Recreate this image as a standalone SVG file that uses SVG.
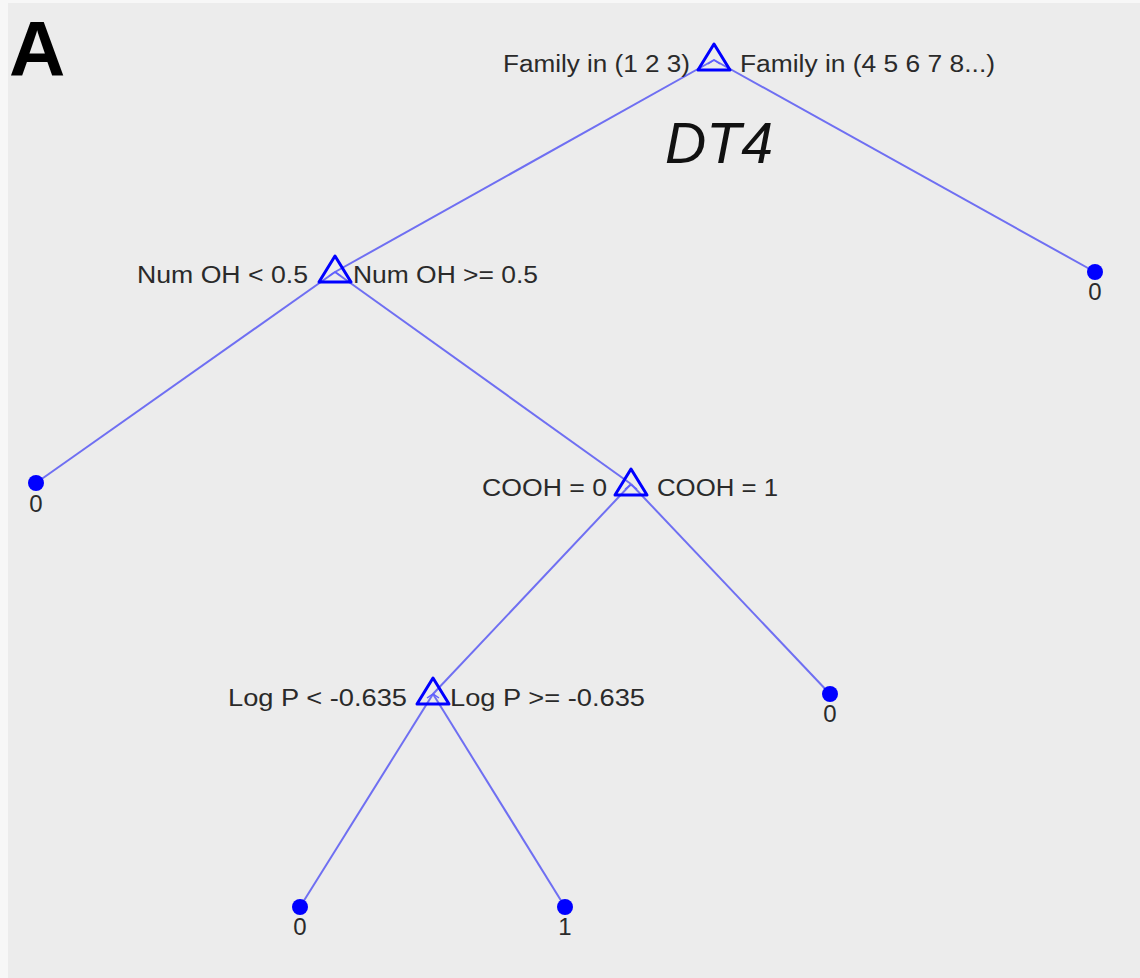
<svg xmlns="http://www.w3.org/2000/svg" width="1140" height="978" viewBox="0 0 1140 978">
<style>
.lbl{font-family:"Liberation Sans",Arial,sans-serif;font-size:23px;fill:#2a2a2a}
.leaf{font-family:"Liberation Sans",Arial,sans-serif;font-size:24px;fill:#2a2a2a;text-anchor:middle}
.edge{stroke:#6f6ff2;stroke-width:2;fill:none}
.tri{stroke:#0000ff;stroke-width:3;fill:none;stroke-linejoin:round}
.inner{stroke:#6060ff;stroke-width:1.5;fill:none}
.dot{fill:#0000ff}
</style>
<defs>
<g id="tri"><path class="tri" d="M0,-14 L16,12 L-16,12 Z"/><path class="inner" d="M-6,6 L0,2 L6,6"/></g>
</defs>
<rect width="1140" height="978" fill="#f7f7f7"/>
<rect x="8" y="3" width="1132" height="975" fill="#ececec"/>
<text x="9" y="76" font-family="Liberation Sans,Arial,sans-serif" font-weight="bold" font-size="78" fill="#000">A</text>
<text x="665" y="163" font-family="Liberation Sans,Arial,sans-serif" font-style="italic" font-size="58" fill="#111" textLength="108" lengthAdjust="spacingAndGlyphs">DT4</text>
<g id="connectors">
<line class="edge" x1="714" y1="60" x2="335" y2="272"/>
<line class="edge" x1="714" y1="60" x2="1095" y2="272"/>
<line class="edge" x1="335" y1="272" x2="36" y2="483"/>
<line class="edge" x1="335" y1="272" x2="631" y2="484"/>
<line class="edge" x1="631" y1="484" x2="433" y2="694"/>
<line class="edge" x1="631" y1="484" x2="830" y2="694"/>
<line class="edge" x1="433" y1="694" x2="300" y2="907"/>
<line class="edge" x1="433" y1="694" x2="565" y2="907"/>
</g>
<g id="n1"><use href="#tri" x="714" y="58"/>
<text class="lbl" x="503" y="72" textLength="187" lengthAdjust="spacingAndGlyphs">Family in (1 2 3)</text>
<text class="lbl" x="740" y="72" textLength="255" lengthAdjust="spacingAndGlyphs">Family in (4 5 6 7 8...)</text></g>
<g id="n2"><use href="#tri" x="335" y="270"/>
<text class="lbl" x="137" y="283" textLength="171" lengthAdjust="spacingAndGlyphs">Num OH &lt; 0.5</text>
<text class="lbl" x="353" y="283" textLength="185" lengthAdjust="spacingAndGlyphs">Num OH &gt;= 0.5</text></g>
<g id="n3"><use href="#tri" x="631" y="483"/>
<text class="lbl" x="482" y="496" textLength="125" lengthAdjust="spacingAndGlyphs">COOH = 0</text>
<text class="lbl" x="657" y="496" textLength="121" lengthAdjust="spacingAndGlyphs">COOH = 1</text></g>
<g id="n4"><use href="#tri" x="433" y="692"/>
<text class="lbl" x="228" y="706" textLength="179" lengthAdjust="spacingAndGlyphs">Log P &lt; -0.635</text>
<text class="lbl" x="450" y="706" textLength="195" lengthAdjust="spacingAndGlyphs">Log P &gt;= -0.635</text></g>
<g id="leaf1"><circle class="dot" cx="1095" cy="272" r="8"/><text class="leaf" x="1095" y="300">0</text></g>
<g id="leaf2"><circle class="dot" cx="36" cy="483" r="8"/><text class="leaf" x="36" y="512">0</text></g>
<g id="leaf3"><circle class="dot" cx="830" cy="694" r="8"/><text class="leaf" x="830" y="722">0</text></g>
<g id="leaf4"><circle class="dot" cx="300" cy="907" r="8"/><text class="leaf" x="300" y="935">0</text></g>
<g id="leaf5"><circle class="dot" cx="565" cy="907" r="8"/><text class="leaf" x="565" y="935">1</text></g>
</svg>
